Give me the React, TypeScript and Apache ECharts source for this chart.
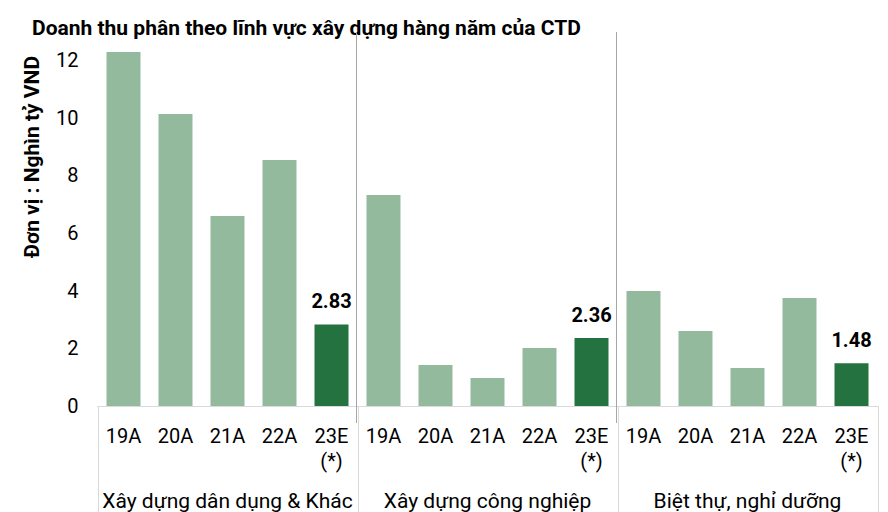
import React, { useEffect, useRef } from "react";
import * as echarts from "echarts";

const title = "Doanh thu phân theo lĩnh vực xây dựng hàng năm của CTD";
const yAxisName = "Đơn vị : Nghìn tỷ VND";
const years = ["19A", "20A", "21A", "22A", "23E\n(*)"];
const groups = ["Xây dựng dân dụng & Khác", "Xây dựng công nghiệp", "Biệt thự, nghỉ dưỡng"];
const civil = [12.28, 10.13, 6.59, 8.53, 2.83];
const industrial = [7.32, 1.42, 0.97, 2.01, 2.36];
const villa = [3.99, 2.6, 1.32, 3.75, 1.48];
const yTicks = { min: 0, max: 12, interval: 2 };

const LIGHT = "#93BA9C";
const DARK = "#24723F";
const FONT = "Roboto, 'Noto Sans', sans-serif";

export default function App() {
  const ref = useRef<HTMLDivElement>(null);
  useEffect(() => {
    if (!ref.current) return;
    const chart = echarts.init(ref.current, null, { renderer: "svg" });
    const groupValues = [civil, industrial, villa];
    const categories: string[] = [];
    const data: any[] = [];
    groupValues.forEach((vals) => {
      vals.forEach((v, i) => {
        categories.push(years[i]);
        const isEst = i === years.length - 1;
        data.push({
          value: v,
          itemStyle: { color: isEst ? DARK : LIGHT },
          label: isEst
            ? {
                show: true,
                position: "top",
                distance: 13,
                fontSize: 20,
                fontWeight: "bold",
                color: "#000",
                fontFamily: FONT,
                formatter: (p: any) => p.value.toFixed(2),
              }
            : { show: false },
        });
      });
    });

    chart.setOption({
      animation: false,
      textStyle: { fontFamily: FONT },
      title: {
        text: title,
        left: 27,
        top: 12,
        textStyle: { fontSize: 21, fontWeight: "bold", color: "#000", fontFamily: FONT },
      },
      grid: { left: 97.5, right: 10.5, top: 60, bottom: 106, containLabel: false },
      xAxis: [
        {
          type: "category",
          data: categories,
          axisLine: { show: true, lineStyle: { color: "#D9D9D9", width: 1 } },
          axisTick: { show: false },
          axisLabel: {
            interval: 0,
            margin: 17,
            fontSize: 20,
            lineHeight: 25,
            color: "#000",
            fontFamily: FONT,
          },
        },
        {
          type: "category",
          data: groups,
          position: "bottom",
          axisLine: { show: false },
          axisTick: { show: false },
          axisLabel: {
            interval: 0,
            margin: 84,
            fontSize: 21,
            color: "#000",
            fontFamily: FONT,
          },
        },
      ],
      yAxis: {
        type: "value",
        min: yTicks.min,
        max: yTicks.max,
        interval: yTicks.interval,
        axisLine: { show: false },
        axisTick: { show: false },
        splitLine: { show: false },
        axisLabel: { fontSize: 20, color: "#000", margin: 19, fontFamily: FONT },
      },
      series: [
        {
          type: "bar",
          data,
          barWidth: 34,
          clip: false,
          xAxisIndex: 0,
        },
      ],
    });

    // separators and category box lines at group boundaries
    const c0 = chart.convertToPixel({ xAxisIndex: 0 }, 0) as number;
    const c1 = chart.convertToPixel({ xAxisIndex: 0 }, 1) as number;
    const bw = c1 - c0;
    const yBase = chart.convertToPixel({ yAxisIndex: 0 }, 0) as number;
    const graphics: any[] = [];
    for (let g = 0; g <= groupValues.length; g++) {
      const x = Math.round(c0 - bw / 2 + g * years.length * bw) + 0.5;
      graphics.push({
        type: "line",
        shape: { x1: x, y1: yBase, x2: x, y2: 512 },
        style: { stroke: "#D9D9D9", lineWidth: 1 },
        silent: true,
      });
      if (g > 0 && g < groupValues.length) {
        graphics.push({
          type: "line",
          shape: { x1: x - 2, y1: 32, x2: x - 2, y2: 423 },
          style: { stroke: "#A6A6A6", lineWidth: 1 },
          silent: true,
          z: 10,
        });
      }
    }
    graphics.push({
      type: "text",
      x: 32,
      y: 157,
      rotation: Math.PI / 2,
      style: {
        text: yAxisName,
        fontSize: 21,
        fontWeight: "bold",
        fill: "#000",
        fontFamily: FONT,
        align: "center",
        verticalAlign: "middle",
      },
    });
    chart.setOption({ graphic: graphics });

    return () => chart.dispose();
  }, []);
  return (
    <div
      ref={ref}
      style={{ position: "fixed", left: 0, top: 0, width: 888, height: 512, background: "#fff" }}
    />
  );
}
